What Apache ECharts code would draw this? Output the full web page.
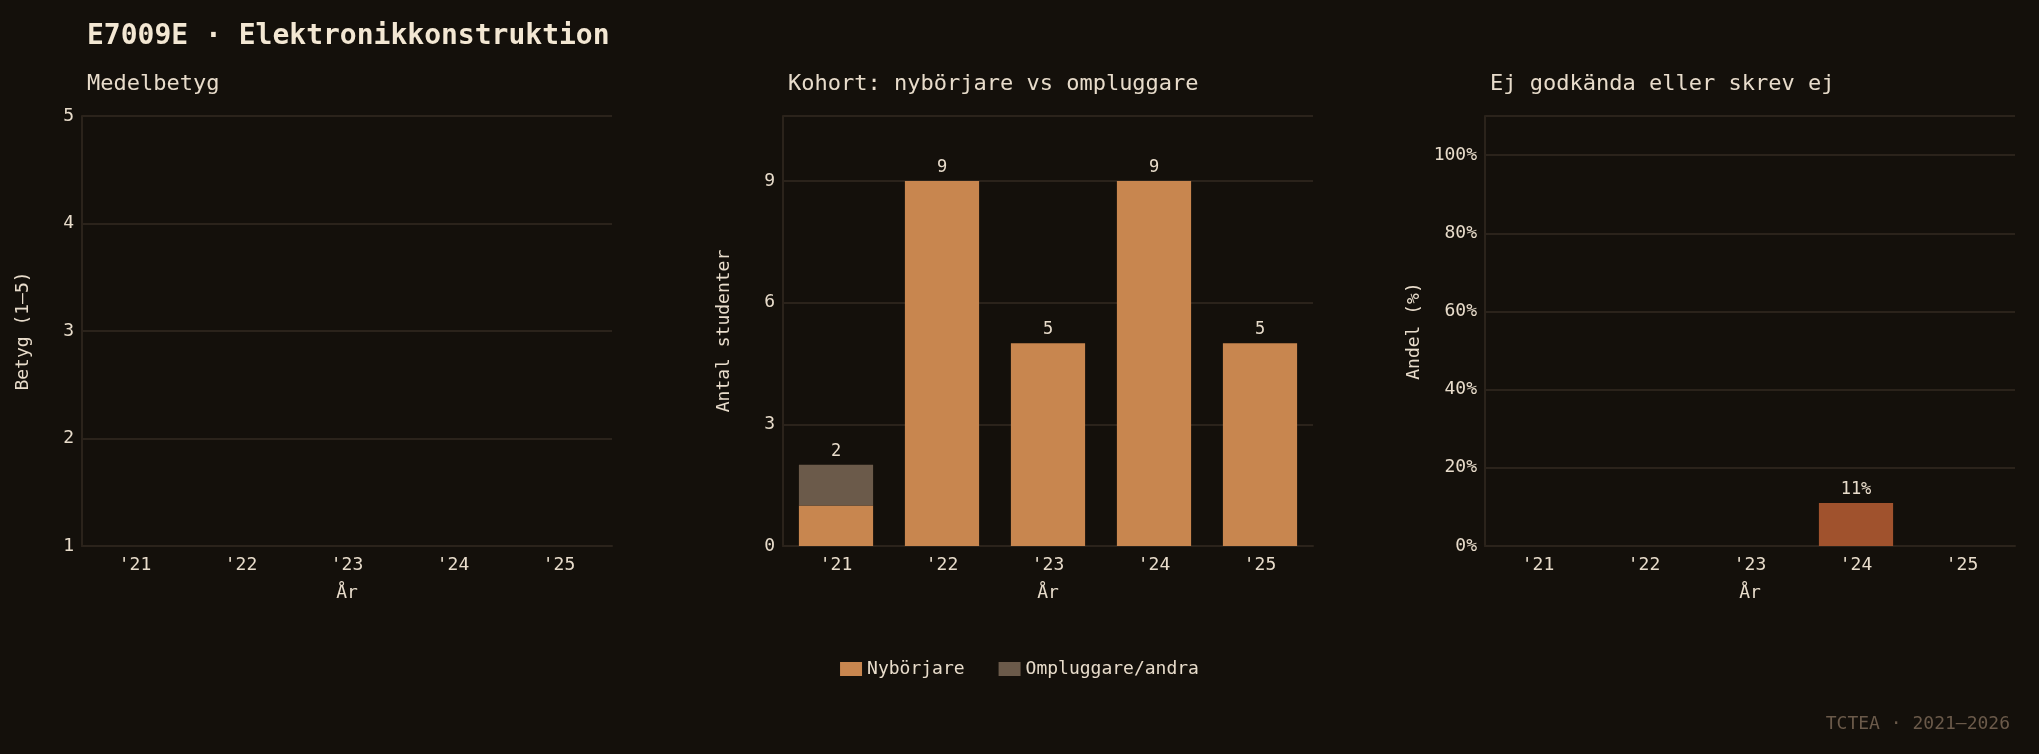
<!DOCTYPE html>
<html><head><meta charset="utf-8">
<script src="https://cdn.jsdelivr.net/npm/echarts@6/dist/echarts.min.js"></script>
<style>html,body{margin:0;background:#14100b}#c{width:2039px;height:754px}</style>
</head><body><div id="c"></div>
<script>
const years = ["'21", "'22", "'23", "'24", "'25"];
const medel = [null, null, null, null, null];
const nyborjare = [1, 9, 5, 9, 5];
const ompluggare = [1, 0, 0, 0, 0];
const ejGodkanda = [null, null, null, 11, null];

const font = 'DejaVu Sans Mono';
const txt = '#e8dccb';
const gridLine = '#2b231b';

function xAxis(idx) {
  return {
    type: 'category', gridIndex: idx, data: years, name: 'År', nameLocation: 'middle', nameGap: 38,
    nameTextStyle: {color: txt, fontSize: 18, fontFamily: font},
    axisLine: {lineStyle: {color: gridLine, width: 2}}, axisTick: {show: false},
    axisLabel: {color: txt, fontSize: 18, fontFamily: font, margin: 10}
  };
}
function yAxis(idx, o) {
  return Object.assign({
    type: 'value', gridIndex: idx, nameLocation: 'middle', nameGap: 50,
    nameTextStyle: {color: txt, fontSize: 18, fontFamily: font},
    axisLine: {show: true, lineStyle: {color: gridLine, width: 2}}, axisTick: {show: false},
    splitLine: {lineStyle: {color: gridLine, width: 2}},
    axisLabel: {color: txt, fontSize: 18, fontFamily: font, showMaxLabel: false}
  }, o);
}

const total = nyborjare.map((v, i) => v + ompluggare[i]);
const chart = echarts.init(document.getElementById('c'));
chart.setOption({
  backgroundColor: '#14100b',
  animation: false,
  title: [
    {text: 'E7009E · Elektronikkonstruktion', left: 82, top: 18, textStyle: {color: '#f3e7d3', fontSize: 28, fontWeight: 'bold', fontFamily: font}},
    {text: 'Medelbetyg', left: 82, top: 68, textStyle: {color: txt, fontSize: 22, fontWeight: 'normal', fontFamily: font}},
    {text: 'Kohort: nybörjare vs ompluggare', left: 783, top: 68, textStyle: {color: txt, fontSize: 22, fontWeight: 'normal', fontFamily: font}},
    {text: 'Ej godkända eller skrev ej', left: 1485, top: 68, textStyle: {color: txt, fontSize: 22, fontWeight: 'normal', fontFamily: font}},
    {text: 'TCTEA · 2021–2026', right: 24, top: 710, textStyle: {color: '#6b5a4a', fontSize: 18, fontWeight: 'normal', fontFamily: font}}
  ],
  legend: {
    top: 655, left: 'center', itemWidth: 22, itemHeight: 14, itemGap: 34, icon: 'rect',
    data: ['Nybörjare', 'Ompluggare/andra'],
    textStyle: {color: txt, fontSize: 18, fontFamily: font}
  },
  grid: [
    {left: 82, width: 530, top: 116, height: 430},
    {left: 783, width: 530, top: 116, height: 430},
    {left: 1485, width: 530, top: 116, height: 430}
  ],
  xAxis: [xAxis(0), xAxis(1), xAxis(2)],
  yAxis: [
    yAxis(0, {min: 1, max: 5, interval: 1, name: 'Betyg (1–5)', axisLabel: {color: txt, fontSize: 18, fontFamily: font}}),
    yAxis(1, {min: 0, max: 10.6, interval: 3, name: 'Antal studenter'}),
    yAxis(2, {min: 0, max: 110, interval: 20, name: 'Andel (%)', nameGap: 62,
      axisLabel: {color: txt, fontSize: 18, fontFamily: font, showMaxLabel: false, formatter: v => v > 100 ? '' : v + '%'}})
  ],
  series: [
    {name: 'Medelbetyg', type: 'line', xAxisIndex: 0, yAxisIndex: 0, data: medel, itemStyle: {color: '#c8864f'}},
    {name: 'Nybörjare', type: 'bar', stack: 'k', xAxisIndex: 1, yAxisIndex: 1, data: nyborjare, barWidth: '70%', itemStyle: {color: '#c8864f'}},
    {name: 'Ompluggare/andra', type: 'bar', stack: 'k', xAxisIndex: 1, yAxisIndex: 1, data: ompluggare, barWidth: '70%', itemStyle: {color: '#6b5a4a'},
      label: {show: true, position: 'top', color: txt, fontSize: 17, fontFamily: font, formatter: p => total[p.dataIndex]}},
    {name: 'Ej godkända', type: 'bar', xAxisIndex: 2, yAxisIndex: 2, data: ejGodkanda, barWidth: '70%', itemStyle: {color: '#a0522d'},
      label: {show: true, position: 'top', color: txt, fontSize: 17, fontFamily: font, formatter: p => p.value + '%'}}
  ]
});
</script></body></html>
